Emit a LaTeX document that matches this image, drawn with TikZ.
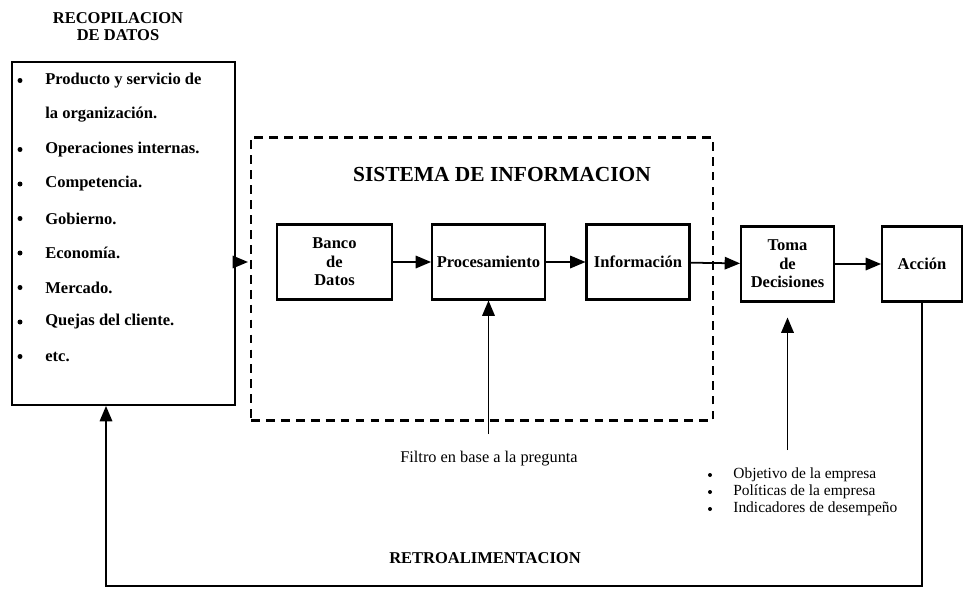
\documentclass[tikz,border=0pt]{standalone}
\usepackage{fontspec}
\setmainfont{Liberation Serif}
\usepackage{pgf,tikz}
\usetikzlibrary{arrows}

\tikzset{
  caja/.style={draw, line width=1.2pt, font=\bfseries\fontsize{9.4}{10.5}\selectfont, align=center, inner sep=0pt},
  flecha/.style={-triangle 45, line width=1pt},
  lista/.style={anchor=west, font=\bfseries\fontsize{9.4}{10}\selectfont, inner sep=0pt},
  punto/.style={circle, fill, inner sep=0pt, minimum size=#1}
}

\begin{document}
\begin{tikzpicture}[x=0.02cm, y=-0.02cm]
\useasboundingbox (0,0) rectangle (963,592);

\node (titulo) [align=center, font=\bfseries\fontsize{9.4}{9.6}\selectfont] at (118,27) {RECOPILACION\\DE DATOS};
\node (datos) [draw, line width=1.2pt, minimum width=4.46cm, minimum height=6.86cm] at (123.5,233.5) {};
\foreach \t [count=\i] in {Producto y servicio de, la organización., Operaciones internas., Competencia., Gobierno., Economía., Mercado., Quejas del cliente., etc.}
  \node (item\i) [lista] at (45,46+34.5*\i) {\t};
\foreach \i in {1,3,4,5,6,7,8,9}
  \node (punto\i) [punto=0.1cm] at (20,46+34.5*\i) {};

\node (sistema) [draw, line width=1.3pt, dash pattern=on 5pt off 3.5pt, minimum width=9.24cm, minimum height=5.66cm] at (482,279) {};
\node (titsis) [font=\bfseries\fontsize{12.2}{13}\selectfont] at (502,175) {SISTEMA DE INFORMACION};

\node (banco) [caja, minimum width=2.3cm, minimum height=1.5cm] at (334.5,262) {Banco\\de\\Datos};
\node (proc) [caja, minimum width=2.26cm, minimum height=1.5cm] at (488.5,262) {Procesamiento};
\node (info) [caja, minimum width=2.06cm, minimum height=1.5cm] at (638,262) {Información};
\node (toma) [caja, minimum width=1.86cm, minimum height=1.5cm] at (787.5,264) {Toma\\de\\Decisiones};
\node (accion) [caja, minimum width=1.6cm, minimum height=1.5cm] at (922,264) {Acción};

\draw[flecha, shorten <=0.04cm, shorten >=0.04cm] (datos.east |- banco) -- (sistema.west |- banco);
\draw[flecha] (banco) -- (proc);
\draw[flecha] (proc) -- (info);
\draw[flecha] (info) -- (toma);
\draw[flecha] (toma) -- (accion);

\coordinate (f) at (488.5,434);
\draw[flecha] (f) -- (proc.south);
\node (filtro) [font=\fontsize{9.3}{10}\selectfont] at (489,459) {Filtro en base a la pregunta};

\coordinate (o) at (787.5,450);
\draw[flecha, shorten >=0.3cm] (o) -- (toma.south);
\foreach \t [count=\i] in {Objetivo de la empresa, Políticas de la empresa, Indicadores de desempeño} {
  \node (obj\i) [anchor=west, inner sep=0pt, font=\fontsize{8.8}{10}\selectfont] at (733,458+17*\i) {\t};
  \node (pobj\i) [punto=0.08cm] at (710,458+17*\i) {};
}

\node (retro) [font=\bfseries\fontsize{9.4}{10}\selectfont] at (485,558) {RETROALIMENTACION};
\coordinate (r1) at (accion |- 0,586);
\coordinate (r2) at (106,586);
\draw[flecha] (accion.south) -- (r1) -- (r2) -- (datos.south -| r2);
\end{tikzpicture}
\end{document}
